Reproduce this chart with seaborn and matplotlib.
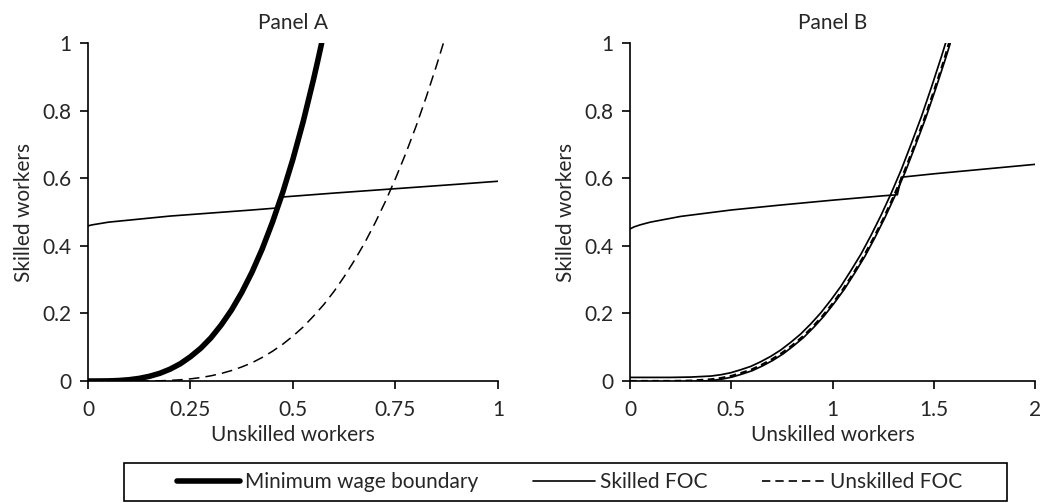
import matplotlib
matplotlib.use("Agg")
import matplotlib.pyplot as plt
import seaborn as sns
import pandas as pd
from matplotlib.lines import Line2D
from matplotlib.patches import Rectangle

# Panel A curves
a_bound_x = [0, 0.025, 0.05, 0.075, 0.1, 0.125, 0.15, 0.175, 0.2, 0.225, 0.25, 0.275, 0.3,
             0.325, 0.35, 0.375, 0.4, 0.425, 0.45, 0.475, 0.5, 0.525, 0.55, 0.56, 0.57]
a_bound_y = [0, 0.0001, 0.0004, 0.0015, 0.0038, 0.0078, 0.014, 0.0228, 0.035, 0.051, 0.072, 0.097,
             0.128, 0.166, 0.21, 0.262, 0.322, 0.391, 0.47, 0.558, 0.657, 0.768, 0.892, 0.945, 1.0]

a_unsk_x = [0, 0.1, 0.15, 0.175, 0.2, 0.225, 0.25, 0.275, 0.3, 0.325, 0.35, 0.375, 0.4, 0.425,
            0.45, 0.475, 0.5, 0.525, 0.55, 0.575, 0.6, 0.625, 0.65, 0.675, 0.7, 0.725, 0.75,
            0.775, 0.8, 0.825, 0.85, 0.867]
a_unsk_y = [0, 0, 0.0002, 0.0007, 0.0018, 0.0036, 0.0064, 0.0102, 0.0155, 0.0223, 0.031, 0.0416,
            0.054, 0.0698, 0.088, 0.1088, 0.133, 0.16, 0.192, 0.226, 0.265, 0.309, 0.357, 0.409,
            0.467, 0.53, 0.599, 0.673, 0.753, 0.84, 0.933, 1.0]

a_skill_x = [0, 0.01, 0.03, 0.05, 0.1, 0.15, 0.2, 0.3, 0.4, 0.462, 0.47, 0.6, 0.75, 0.9, 1.0]
a_skill_y = [0.459, 0.462, 0.466, 0.47, 0.476, 0.482, 0.488, 0.497, 0.506, 0.512, 0.544, 0.556,
             0.569, 0.582, 0.591]

# Panel B curves
b_bound_x = [0, 0.1, 0.2, 0.3, 0.4, 0.45, 0.5, 0.55, 0.6, 0.65, 0.7, 0.75, 0.8, 0.85, 0.9, 0.95,
             1.0, 1.05, 1.1, 1.15, 1.2, 1.25, 1.3, 1.35, 1.4, 1.45, 1.5, 1.55, 1.57]
b_bound_y = [0.004, 0.004, 0.004, 0.005, 0.008, 0.012, 0.018, 0.027, 0.037, 0.051, 0.067, 0.086,
             0.109, 0.134, 0.164, 0.197, 0.235, 0.276, 0.323, 0.372, 0.428, 0.488, 0.553, 0.623,
             0.701, 0.781, 0.869, 0.961, 1.0]

b_unsk_x = [0, 0.1, 0.2, 0.3, 0.4, 0.45, 0.5, 0.55, 0.6, 0.65, 0.7, 0.75, 0.8, 0.85, 0.9, 0.95,
            1.0, 1.05, 1.1, 1.15, 1.2, 1.25, 1.3, 1.35, 1.4, 1.45, 1.5, 1.55, 1.575]
b_unsk_y = [0, 0, 0, 0.001, 0.005, 0.009, 0.015, 0.024, 0.034, 0.048, 0.064, 0.083, 0.105, 0.13,
            0.159, 0.192, 0.229, 0.27, 0.316, 0.365, 0.42, 0.479, 0.544, 0.613, 0.69, 0.77, 0.857,
            0.948, 1.0]

b_skill_x = [0, 0.02, 0.05, 0.1, 0.25, 0.5, 0.75, 1.0, 1.25, 1.32, 1.34, 1.5, 1.75, 2.0]
b_skill_y = [0.45, 0.456, 0.462, 0.47, 0.487, 0.506, 0.521, 0.535, 0.548, 0.551, 0.603, 0.613,
             0.627, 0.641]

sns.set_style("white")
plt.rcParams["font.family"] = ["Lato", "DejaVu Sans"]
FS = 15

fig = plt.figure(figsize=(10.49, 5.03), dpi=100)
ax_a = fig.add_axes([0.0839, 0.2425, 0.3908, 0.672])
ax_b = fig.add_axes([0.6006, 0.2425, 0.3861, 0.672])


def draw(ax, df_b, df_u, df_s, double=False):
    if double:
        sns.lineplot(data=df_b, x="x", y="y", ax=ax, color="black", lw=4.5,
                     sort=False, estimator=None)
        sns.lineplot(data=df_b, x="x", y="y", ax=ax, color="white", lw=2.0,
                     sort=False, estimator=None)
        sns.lineplot(data=df_u, x="x", y="y", ax=ax, color="black", lw=1.6,
                     sort=False, estimator=None, linestyle=(0, (3, 2)))
    else:
        sns.lineplot(data=df_b, x="x", y="y", ax=ax, color="black", lw=4,
                     sort=False, estimator=None)
        sns.lineplot(data=df_u, x="x", y="y", ax=ax, color="black", lw=1.1,
                     sort=False, estimator=None, linestyle=(0, (7, 4)))
    sns.lineplot(data=df_s, x="x", y="y", ax=ax, color="black", lw=1.2,
                 sort=False, estimator=None)


draw(ax_a,
     pd.DataFrame({"x": a_bound_x, "y": a_bound_y}),
     pd.DataFrame({"x": a_unsk_x, "y": a_unsk_y}),
     pd.DataFrame({"x": a_skill_x, "y": a_skill_y}))
draw(ax_b,
     pd.DataFrame({"x": b_bound_x, "y": b_bound_y}),
     pd.DataFrame({"x": b_unsk_x, "y": b_unsk_y}),
     pd.DataFrame({"x": b_skill_x, "y": b_skill_y}),
     double=True)

for ax, title, xmax, xticks, xlabels in [
        (ax_a, "Panel A", 1, [0, 0.25, 0.5, 0.75, 1], ["0", "0.25", "0.5", "0.75", "1"]),
        (ax_b, "Panel B", 2, [0, 0.5, 1, 1.5, 2], ["0", "0.5", "1", "1.5", "2"])]:
    ax.set_xlim(0, xmax)
    ax.set_ylim(0, 1)
    ax.set_xticks(xticks)
    ax.set_xticklabels(xlabels)
    ax.set_yticks([0, 0.2, 0.4, 0.6, 0.8, 1])
    ax.set_yticklabels(["0", "0.2", "0.4", "0.6", "0.8", "1"])
    ax.set_title(title, fontsize=FS, pad=10)
    ax.set_xlabel("Unskilled workers", fontsize=FS, labelpad=3)
    ax.set_ylabel("Skilled workers", fontsize=FS, labelpad=6)
    ax.tick_params(axis="x", labelsize=FS, length=6, width=1.2, pad=8,
                   direction="out", color="black", bottom=True)
    ax.tick_params(axis="y", labelsize=FS, length=6, width=1.2, pad=6,
                   direction="out", color="black", left=True)
    for side in ["top", "right"]:
        ax.spines[side].set_visible(False)
    for side in ["left", "bottom"]:
        ax.spines[side].set_color("black")
        ax.spines[side].set_linewidth(1.2)

# legend box drawn separately so its padding matches the original
fig.patches.append(Rectangle((124 / 1049, 2 / 503), 883 / 1049, 38 / 503,
                             transform=fig.transFigure, fill=False,
                             edgecolor="black", lw=1.2))

handles = [
    Line2D([], [], color="black", lw=4),
    Line2D([], [], color="black", lw=1.2),
    Line2D([], [], color="black", lw=1.2, linestyle=(0, (5, 3))),
]
labels = ["Minimum wage boundary", "Skilled FOC", "Unskilled FOC"]
leg = fig.legend(handles, labels, loc="center", bbox_to_anchor=(0.543, 0.042), ncol=3,
                 fontsize=FS, frameon=False, handlelength=3.0, handletextpad=0.25,
                 columnspacing=2.6, borderpad=0, borderaxespad=0)

fig.savefig("out.png", dpi=100)
